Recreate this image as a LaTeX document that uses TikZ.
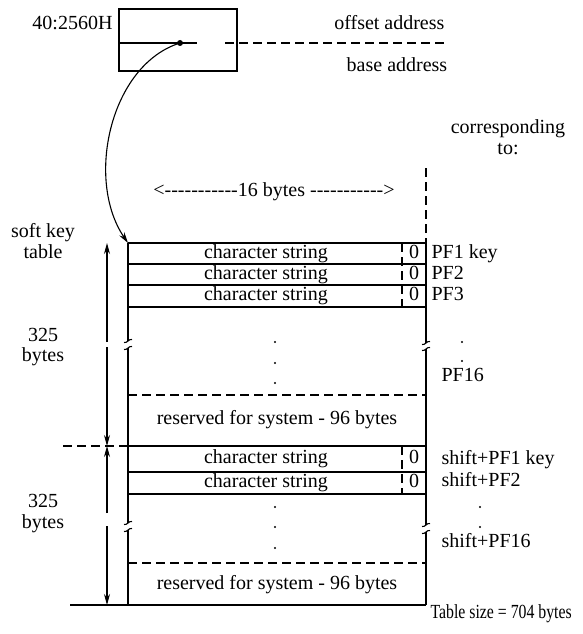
\documentclass[tikz,border=0pt]{standalone}
\usepackage{fontspec}
\usepackage{graphicx}
\setmainfont{Liberation Serif}
\usetikzlibrary{arrows.meta}
\newcommand\hy{-\kern0pt}
\newcommand\brkmark[2]{\draw (#1-4,#2+1.5) .. controls (#1-1,#2+2.5) and (#1+1,#2-2.5) .. (#1+4,#2-1.5);}
\begin{document}
\begin{tikzpicture}[x=1pt,y=-1pt,line width=1.1pt,
  every node/.style={inner sep=0pt,font=\fontsize{20}{24}\selectfont,text height=13pt,text depth=4pt},
  dsh/.style={dash pattern=on 9pt off 5pt},
  tip/.style={-{Stealth[length=11pt,width=6pt]}}]
\useasboundingbox (0,0) rectangle (582,634);
% top pointer box
\draw (119,9) rectangle (237,71);
\draw (119,43) -- (197,43);
\draw[dsh] (225,43) -- (445,43);
\coordinate (dot) at (180,43);
\fill (dot) circle (3pt);
\node[anchor=east] (seg) at (113,25) {40:2560H};
\node[anchor=east] (off) at (445,25) {offset address};
\node (base) at (397,67) {base address};
% table
\coordinate (ttop) at (128,243);
\draw[tip] (dot) .. controls (110,65) and (85,180) .. (ttop);
\node (bytes16) at (274,192) {<\hy\hy\hy\hy\hy\hy\hy\hy\hy\hy\hy16 bytes \hy\hy\hy\hy\hy\hy\hy\hy\hy\hy\hy>};
\node (corr) at (508,129) {corresponding};
\node (to) at (508,150) {to:};
\draw[dsh] (426,168) -- (426,243);
% vertical edges with break marks
\draw (128,243) -- (128,341); \brkmark{128}{341} \brkmark{128}{348}
\draw (128,348) -- (128,523); \brkmark{128}{523} \brkmark{128}{530}
\draw (128,530) -- (128,605);
\draw (426,243) -- (426,343); \brkmark{426}{343} \brkmark{426}{349}
\draw (426,349) -- (426,525); \brkmark{426}{525} \brkmark{426}{532}
\draw (426,532) -- (426,605);
% horizontal lines
\foreach \y in {243,264,285,307,446,472,494} \draw (128,\y) -- (426,\y);
\draw[dsh] (128,395) -- (426,395);
\draw[dsh] (128,563) -- (426,563);
\draw[dsh] (63,446) -- (128,446);
\draw (70,605) -- (426,605);
\draw[dsh] (402,243) -- (402,307);
\draw[dsh] (402,446) -- (402,494);
% row texts
\foreach \y/\n in {253.5/a,274.5/b,296/c,459/d,483/e}{
  \node (cs\n) at (266,\y) {character string};
  \node (z\n) at (414,\y) {0};
}
\foreach \y in {342,363,383,507,527,548} \fill (275,\y) circle (1.2pt);
\node (res1) at (277,420) {reserved for system - 96 bytes};
\node (res2) at (277,585) {reserved for system - 96 bytes};
% right labels
\node[anchor=west] (pf1) at (431,253.5) {PF1 key};
\node[anchor=west] (pf2) at (431,274.5) {PF2};
\node[anchor=west] (pf3) at (431,296) {PF3};
\fill (462,342) circle (1.2pt); \fill (462,361) circle (1.2pt);
\node[anchor=west] (pf16) at (441,377) {PF16};
\node[anchor=west] (spf1) at (441,460) {shift+PF1 key};
\node[anchor=west] (spf2) at (441,482) {shift+PF2};
\fill (480,507) circle (1.2pt); \fill (480,527) circle (1.2pt);
\node[anchor=west] (spf16) at (441,543) {shift+PF16};
\node[anchor=west] (tsize) at (430,614) {\scalebox{0.79}[1]{Table size = 704 bytes}};
% left labels
\node (sk1) at (43,233) {soft key};
\node (sk2) at (43,254) {table};
\node (n1a) at (43,337) {325};
\node (n1b) at (43,357) {bytes};
\node (n2a) at (43,503) {325};
\node (n2b) at (43,524) {bytes};
% dimension arrows
\coordinate (u1) at (107,243); \coordinate (u2) at (107,446); \coordinate (u3) at (107,605);
\draw[tip] (107,342) -- (u1);
\draw[tip] (107,347) -- (u2);
\draw[tip] (107,513) -- (u2);
\draw[tip] (107,526) -- (u3);
\end{tikzpicture}
\end{document}
